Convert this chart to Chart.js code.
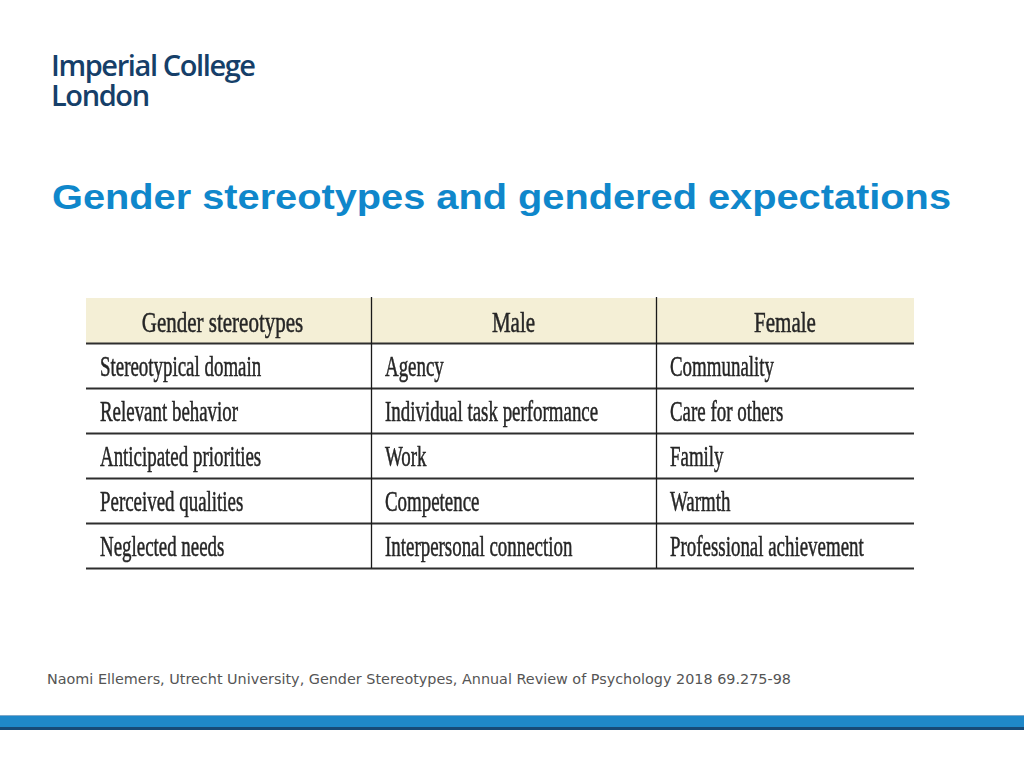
<!DOCTYPE html>
<html>
<head>
<meta charset="utf-8">
<script src="https://cdn.jsdelivr.net/npm/chart.js@4"></script>
<style>
  html, body { margin:0; padding:0; background:#fff; width:1024px; height:768px; overflow:hidden; position:relative; }
  #logo { position:absolute; left:51px; top:50px; font-family:"Open Sans", sans-serif; font-weight:600; font-size:29px; line-height:30px; color:#163f69; letter-spacing:-1.4px; }
  #title { position:absolute; left:52px; top:177px; font-family:"Liberation Sans", Arial, sans-serif; font-weight:bold; font-size:35px; color:#0f87cb; white-space:nowrap; transform-origin:0 0; }
  #footer { position:absolute; left:47px; top:671px; font-family:"DejaVu Sans", sans-serif; font-size:14.4px; color:#555; white-space:nowrap; transform-origin:0 0; }
  #bar1 { position:absolute; left:0; top:715px; width:1024px; height:1px; background:#7fa8c8; }
  #bar2 { position:absolute; left:0; top:716px; width:1024px; height:11px; background:#1f88c9; }
  #bar3 { position:absolute; left:0; top:727px; width:1024px; height:3px; background:#174a78; }
  #wrap { position:absolute; left:80px; top:290px; width:840px; height:290px; }
</style>
</head>
<body>
<div id="logo">Imperial College<br>London</div>
<div id="title">Gender stereotypes and gendered expectations</div>
<div id="wrap"><canvas id="c"></canvas></div>
<div id="footer">Naomi Ellemers, Utrecht University, Gender Stereotypes, Annual Review of Psychology 2018 69.275-98</div>
<div id="bar1"></div><div id="bar2"></div><div id="bar3"></div>
<script>
// ---- data ----
const columns = ["Gender stereotypes", "Male", "Female"];
const rowLabels = ["Stereotypical domain", "Relevant behavior", "Anticipated priorities", "Perceived qualities", "Neglected needs"];
const maleValues = ["Agency", "Individual task performance", "Work", "Competence", "Interpersonal connection"];
const femaleValues = ["Communality", "Care for others", "Family", "Warmth", "Professional achievement"];

// ---- layout (column edges in px units of the x scale) ----
const colEdges = [0, 285, 570, 828];

// stretch title / footer to the reference widths
function fitWidth(id, target) {
  const el = document.getElementById(id);
  const w = el.getBoundingClientRect().width;
  el.style.transform = 'scaleX(' + (target / w) + ')';
}
fitWidth('title', 899);
fitWidth('footer', 744);

const tablePlugin = {
  id: 'tablePlugin',
  afterDraw(chart) {
    const ctx = chart.ctx;
    const xs = chart.scales.x, ys = chart.scales.y;
    const X = v => xs.getPixelForValue(v);
    const Y = v => ys.getPixelForValue(v);
    const nRows = rowLabels.length + 1;
    const left = X(colEdges[0]), right = X(colEdges[colEdges.length - 1]);
    ctx.save();
    // header background
    ctx.fillStyle = '#f4efd6';
    ctx.fillRect(left, Y(0), right - left, Y(1) - Y(0));
    // horizontal lines
    ctx.strokeStyle = '#2e2e2e';
    ctx.lineWidth = 1.8;
    for (let r = 1; r <= nRows; r++) {
      const y = Math.round(Y(r)) + 0.5;
      ctx.beginPath(); ctx.moveTo(left, y); ctx.lineTo(right, y); ctx.stroke();
    }
    // vertical separators
    ctx.lineWidth = 1.3;
    ctx.strokeStyle = '#1a1a1a';
    for (let c = 1; c < colEdges.length - 1; c++) {
      const x = Math.round(X(colEdges[c])) + 0.5;
      ctx.beginPath(); ctx.moveTo(x, Y(0) - 1); ctx.lineTo(x, Y(nRows)); ctx.stroke();
    }
    // text
    ctx.fillStyle = '#262626';
    ctx.strokeStyle = '#262626';
    ctx.lineWidth = 0.5;
    ctx.textBaseline = 'alphabetic';
    const drawText = (txt, x, y, align, size, sx) => {
      ctx.save();
      ctx.font = size + 'px "Liberation Serif", serif';
      const w = ctx.measureText(txt).width * sx;
      let x0 = align === 'center' ? x - w / 2 : x;
      ctx.translate(x0, y);
      ctx.scale(sx, 1);
      ctx.textAlign = 'left';
      ctx.fillText(txt, 0, 0);
      ctx.strokeText(txt, 0, 0);
      ctx.restore();
    };
    // header
    for (let c = 0; c < columns.length; c++) {
      const cx = (X(colEdges[c]) + X(colEdges[c + 1])) / 2;
      drawText(columns[c], cx - (c === 0 ? 6 : 0), (Y(0) + Y(1)) / 2 + 11.5, 'center', 30, 0.70);
    }
    const cols = [rowLabels, maleValues, femaleValues];
    for (let r = 0; r < rowLabels.length; r++) {
      const cy = (Y(r + 1) + Y(r + 2)) / 2 + 10;
      for (let c = 0; c < cols.length; c++) {
        drawText(cols[c][r], X(colEdges[c]) + 14, cy, 'left', 29, 0.652);
      }
    }
    ctx.restore();
  }
};

new Chart(document.getElementById('c'), {
  type: 'scatter',
  data: { datasets: [{ data: [], pointRadius: 0 }] },
  options: {
    responsive: true,
    maintainAspectRatio: false,
    animation: false,
    layout: { padding: { left: 6, top: 8, right: 6, bottom: 12 } },
    plugins: { legend: { display: false }, tooltip: { enabled: false } },
    scales: {
      x: { type: 'linear', min: colEdges[0], max: colEdges[colEdges.length - 1], display: false },
      y: { type: 'linear', min: 0, max: rowLabels.length + 1, reverse: true, display: false }
    }
  },
  plugins: [tablePlugin]
});
</script>
</body>
</html>
